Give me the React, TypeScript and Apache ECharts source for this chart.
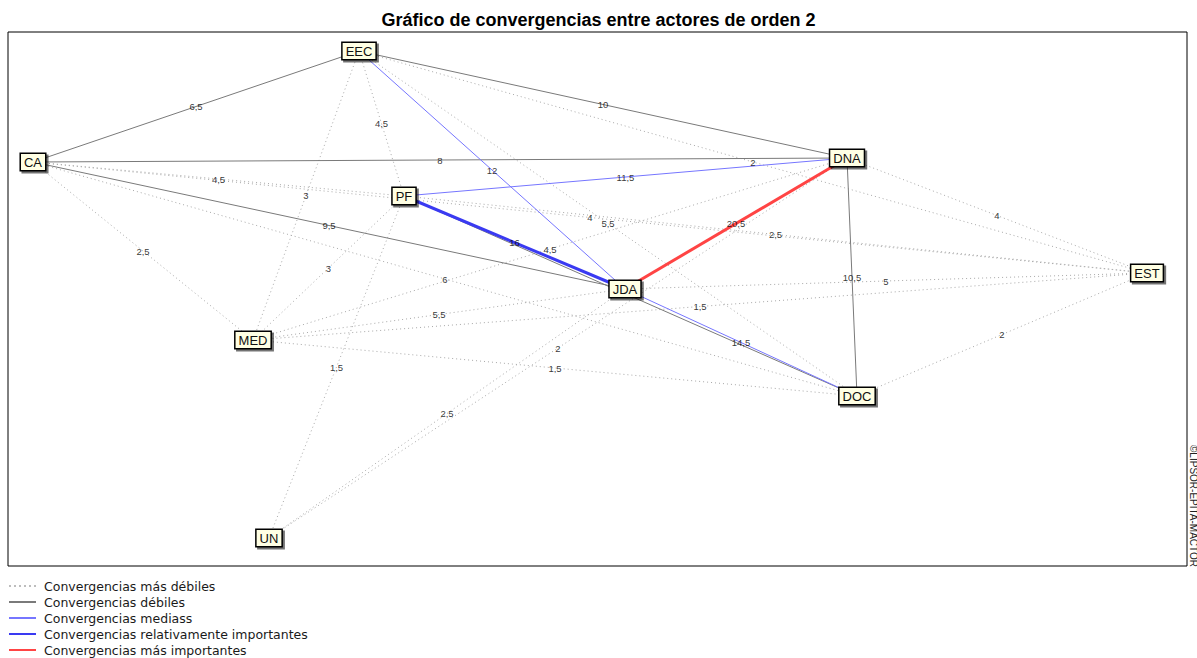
import React, { useEffect, useRef } from 'react';
import * as echarts from 'echarts';

const titleText = 'Gráfico de convergencias entre actores de orden 2';
const copyrightText = '©LIPSOR-EPITA-MACTOR';

// Actors and their positions on the convergence map
const actors = ['EEC', 'CA', 'DNA', 'PF', 'EST', 'JDA', 'MED', 'DOC', 'UN'];
const actorX = [359, 33, 847, 404, 1147, 625, 253, 857, 269];
const actorY = [51, 162, 158, 196, 273, 289, 340, 396, 538];

// Convergences between actors
const linkSource = ['EEC', 'EEC', 'EEC', 'EEC', 'EEC', 'EEC', 'EEC', 'CA', 'CA', 'CA', 'CA', 'CA', 'CA', 'DNA', 'DNA', 'DNA', 'DNA', 'DNA', 'DNA', 'PF', 'PF', 'PF', 'PF', 'PF', 'EST', 'EST', 'EST', 'JDA', 'JDA', 'JDA', 'MED'];
const linkTarget = ['CA', 'DNA', 'PF', 'EST', 'JDA', 'MED', 'DOC', 'DNA', 'PF', 'EST', 'JDA', 'MED', 'DOC', 'PF', 'EST', 'JDA', 'MED', 'DOC', 'UN', 'EST', 'JDA', 'MED', 'UN', 'DOC', 'JDA', 'MED', 'DOC', 'MED', 'DOC', 'UN', 'DOC'];
const linkValue = [6.5, 10, 4.5, 2, 12, 3, 5.5, 8, 4.5, 4, 9.5, 2.5, 6, 11.5, 4, 20.5, 4.5, 10.5, 2, 2.5, 16, 3, 1.5, 7, 5, 1.5, 2, 5.5, 14.5, 2.5, 1.5];
const hiddenLabelLinks = ['PF-DOC'];

// Legend levels
const legendNames = [
  'Convergencias más débiles',
  'Convergencias débiles',
  'Convergencias mediass',
  'Convergencias relativamente importantes',
  'Convergencias más importantes',
];
const levelUpper = [6, 11, 15, 20, Infinity];

const levelStyles: any[] = [
  { color: '#a9a9a9', width: 1, type: [1, 3] },
  { color: '#7a7a7a', width: 1, type: 'solid' },
  { color: '#7676ff', width: 1, type: 'solid' },
  { color: '#3a3af2', width: 3, type: 'solid' },
  { color: '#ff4444', width: 3, type: 'solid' },
];

const fmt = (v: number) => String(v).replace('.', ',');
const levelOf = (v: number) => levelUpper.findIndex((u) => v <= u);

export default function App() {
  const ref = useRef<HTMLDivElement>(null);

  useEffect(() => {
    if (!ref.current) return;
    const chart = echarts.init(ref.current, undefined, { renderer: 'svg' });

    const idx = (n: string) => actors.indexOf(n);

    const links = linkSource
      .map((s, i) => ({ s, t: linkTarget[i], v: linkValue[i], lvl: levelOf(linkValue[i]) }))
      .sort((a, b) => a.lvl - b.lvl)
      .map((l) => ({
        source: l.s,
        target: l.t,
        value: l.v,
        lineStyle: { ...levelStyles[l.lvl], opacity: 1, curveness: 0 },
      }));

    const labelPoints = linkSource
      .map((s, i) => {
        const a = idx(s);
        const b = idx(linkTarget[i]);
        return {
          key: s + '-' + linkTarget[i],
          value: [(actorX[a] + actorX[b]) / 2, (actorY[a] + actorY[b]) / 2, linkValue[i]],
        };
      })
      .filter((p) => hiddenLabelLinks.indexOf(p.key) < 0)
      .map((p) => ({ value: p.value }));

    const legendSeries = legendNames.map((name, i) => ({
      name,
      type: 'line',
      data: [],
      symbol: 'none',
      lineStyle: {
        ...levelStyles[i],
        width: Math.min(levelStyles[i].width, 2.5),
        color: i === 0 ? '#bdbdbd' : levelStyles[i].color,
        type: i === 0 ? [2, 3] : levelStyles[i].type,
      },
      itemStyle: { color: levelStyles[i].color, opacity: 0 },
    }));

    chart.setOption({
      animation: false,
      backgroundColor: '#ffffff',
      title: {
        text: titleText,
        left: 'center',
        top: 6,
        textStyle: {
          fontFamily: 'Liberation Sans, Arial, sans-serif',
          fontSize: 18,
          fontWeight: 'bold',
          color: '#000',
        },
      },
      grid: {
        left: 8,
        top: 32,
        width: 1179,
        height: 534,
        show: true,
        borderColor: '#000',
        borderWidth: 1,
        backgroundColor: 'transparent',
      },
      xAxis: { type: 'value', min: 8, max: 1187, show: false },
      yAxis: { type: 'value', min: 32, max: 566, inverse: true, show: false },
      legend: {
        orient: 'vertical',
        left: 8,
        top: 579,
        padding: 0,
        itemGap: 2,
        itemWidth: 27,
        itemHeight: 10,
        selectedMode: false,
        data: legendNames,
        itemStyle: { opacity: 0 },
        textStyle: {
          fontFamily: 'DejaVu Sans, sans-serif',
          fontSize: 12.5,
          color: '#1a1a1a',
          lineHeight: 14,
          padding: [0, 0, 0, 3],
        },
      },
      graphic: [
        {
          type: 'text',
          x: 1188,
          y: 445,
          rotation: -Math.PI / 2,
          style: {
            text: copyrightText,
            fontFamily: 'Liberation Sans, Arial, sans-serif',
            fontSize: 10,
            fill: '#222',
            align: 'left',
            verticalAlign: 'bottom',
          },
        },
      ],
      series: [
        ...legendSeries,
        {
          type: 'graph',
          layout: 'none',
          coordinateSystem: 'cartesian2d',
          z: 3,
          symbolSize: 1,
          itemStyle: { color: 'transparent' },
          data: actors.map((a, i) => ({ name: a, value: [actorX[i], actorY[i]] })),
          links,
          edgeLabel: { show: false },
          emphasis: { disabled: true },
          label: {
            show: true,
            position: 'inside',
            formatter: '{b}',
            fontFamily: 'Liberation Sans, Arial, sans-serif',
            fontSize: 13,
            lineHeight: 13,
            color: '#111',
            backgroundColor: '#ffffe4',
            borderColor: '#000',
            borderWidth: 1.5,
            padding: [2, 3, 1, 3],
            shadowColor: 'rgba(0,0,0,0.55)',
            shadowOffsetX: 2,
            shadowOffsetY: 2,
            shadowBlur: 1,
          },
        },
        {
          type: 'scatter',
          z: 4,
          symbolSize: 1,
          itemStyle: { color: 'transparent' },
          silent: true,
          data: labelPoints,
          label: {
            show: true,
            position: 'inside',
            formatter: (p: any) => fmt(p.value[2]),
            fontFamily: 'Liberation Sans, Arial, sans-serif',
            fontSize: 9.5,
            color: '#000',
          },
        },
      ],
    });

    return () => chart.dispose();
  }, []);

  return (
    <div
      ref={ref}
      style={{ position: 'fixed', left: 0, top: 0, width: 1197, height: 658 }}
    />
  );
}
